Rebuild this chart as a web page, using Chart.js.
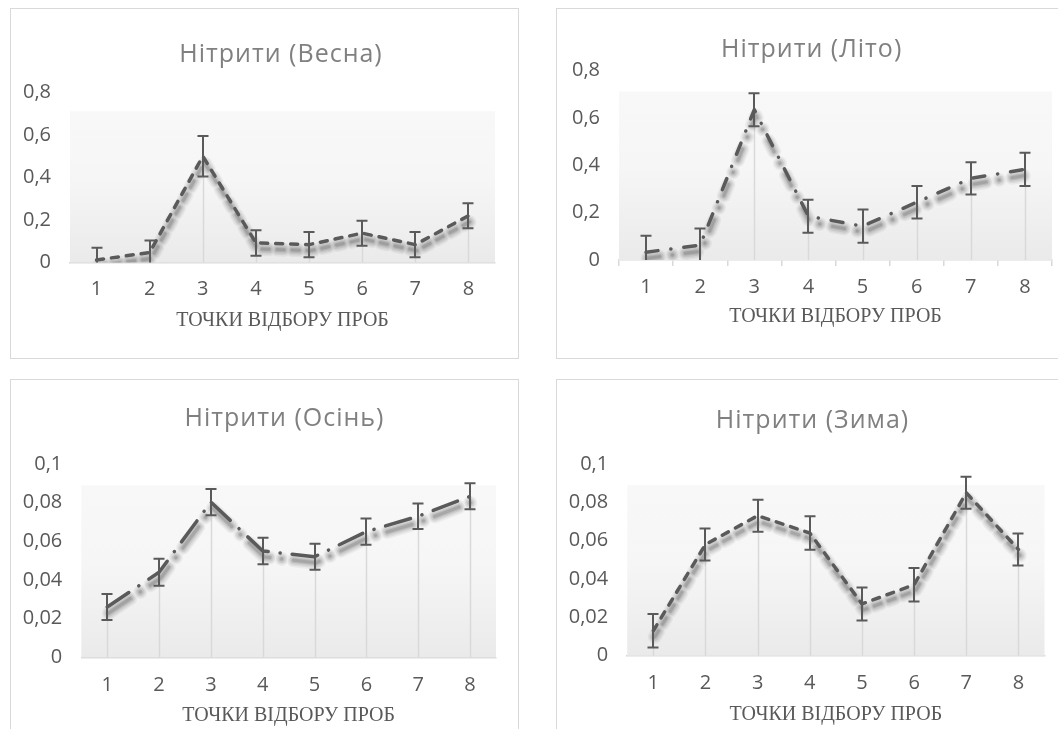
<!DOCTYPE html>
<html>
<head>
<meta charset="utf-8">
<script src="https://cdn.jsdelivr.net/npm/chart.js@4.4.1/dist/chart.umd.min.js"></script>
<style>
html,body{margin:0;padding:0;background:#ffffff;overflow:hidden;width:1058px;height:729px;position:relative;}
.panel{position:absolute;box-sizing:border-box;border:1px solid #d9d9d9;background:#ffffff;}
canvas{position:absolute;}
</style>
</head>
<body>
<div class="panel" style="left:10px;top:8px;width:509px;height:351px"></div>
<div class="panel" style="left:556px;top:8px;width:509px;height:351px"></div>
<div class="panel" style="left:10px;top:379px;width:509px;height:351px"></div>
<div class="panel" style="left:556px;top:379px;width:509px;height:351px"></div>
<canvas id="c1" width="508" height="350" style="left:10px;top:8px"></canvas>
<canvas id="c2" width="508" height="350" style="left:556px;top:8px"></canvas>
<canvas id="c3" width="508" height="350" style="left:10px;top:379px"></canvas>
<canvas id="c4" width="508" height="350" style="left:556px;top:379px"></canvas>
<script>
// ---------- data ----------
const categories = ['1', '2', '3', '4', '5', '6', '7', '8'];
const axisTitle = 'ТОЧКИ ВІДБОРУ ПРОБ';

const springTitle = 'Нітрити (Весна)';
const springValues = [0.012, 0.047, 0.5, 0.092, 0.084, 0.138, 0.084, 0.22];
const springErrors = [0.058, 0.056, 0.095, 0.06, 0.059, 0.059, 0.059, 0.059];
const springTicks = [0, 0.2, 0.4, 0.6, 0.8];
const springTickLabels = ['0', '0,2', '0,4', '0,6', '0,8'];

const summerTitle = 'Нітрити (Літо)';
const summerValues = [0.033, 0.063, 0.635, 0.185, 0.143, 0.244, 0.345, 0.383];
const summerErrors = [0.07, 0.07, 0.07, 0.07, 0.07, 0.069, 0.068, 0.07];
const summerTicks = [0, 0.2, 0.4, 0.6, 0.8];
const summerTickLabels = ['0', '0,2', '0,4', '0,6', '0,8'];

const autumnTitle = 'Нітрити (Осінь)';
const autumnValues = [0.026, 0.044, 0.0803, 0.055, 0.052, 0.065, 0.073, 0.0833];
const autumnErrors = [0.0067, 0.007, 0.0068, 0.0069, 0.0067, 0.0068, 0.0066, 0.0067];
const autumnTicks = [0, 0.02, 0.04, 0.06, 0.08, 0.1];
const autumnTickLabels = ['0', '0,02', '0,04', '0,06', '0,08', '0,1'];

const winterTitle = 'Нітрити (Зима)';
const winterValues = [0.013, 0.058, 0.073, 0.064, 0.027, 0.037, 0.085, 0.0554];
const winterErrors = [0.0087, 0.0083, 0.0084, 0.0087, 0.0086, 0.0087, 0.0084, 0.0084];
const winterTicks = [0, 0.02, 0.04, 0.06, 0.08, 0.1];
const winterTickLabels = ['0', '0,02', '0,04', '0,06', '0,08', '0,1'];

// ---------- styles ----------
const LINE = '#5a5a5a';
const TEXT = '#595959';
const TITLE = '#808080';
const AXIS = '#d9d9d9';

// ---------- plugins ----------
const plotBg = {
  id: 'plotBg',
  beforeDatasetsDraw(chart) {
    const {ctx, chartArea: a} = chart;
    const top = a.top + (a.bottom - a.top) * 0.11;
    const g = ctx.createLinearGradient(0, top, 0, a.bottom);
    g.addColorStop(0, '#f8f8f8');
    g.addColorStop(0.45, '#f6f6f6');
    g.addColorStop(1, '#eaeaea');
    ctx.save();
    ctx.fillStyle = g;
    ctx.fillRect(a.left, top, a.right - a.left, a.bottom - top);
    ctx.restore();
  }
};

const dropLines = {
  id: 'dropLines',
  beforeDatasetsDraw(chart) {
    const {ctx, chartArea: a, scales: {x, y}} = chart;
    const data = chart.data.datasets[0].data;
    ctx.save();
    ctx.strokeStyle = AXIS;
    ctx.lineWidth = 1.5;
    data.forEach((v, i) => {
      const px = Math.round(x.getPixelForValue(i)) + 0.5;
      ctx.beginPath();
      ctx.moveTo(px, y.getPixelForValue(v));
      ctx.lineTo(px, a.bottom);
      ctx.stroke();
    });
    ctx.restore();
  }
};

// soft shadow under the line, built from the line's own computed points
const lineShadow = {
  id: 'lineShadow',
  beforeDatasetDraw(chart) {
    const {ctx, chartArea: a} = chart;
    const meta = chart.getDatasetMeta(0);
    const ds = chart.data.datasets[0];
    const pts = meta.data;
    ctx.save();
    ctx.beginPath();
    ctx.rect(a.left, a.top - 10, a.right - a.left, a.bottom - a.top + 10);
    ctx.clip();
    ctx.setLineDash(ds.borderDash || []);
    ctx.lineCap = 'round';
    ctx.lineJoin = 'round';
    const layers = [[14, 0.045], [11, 0.06], [8, 0.075], [5, 0.09], [3, 0.1]];
    layers.forEach(([w, al]) => {
      ctx.lineWidth = w;
      ctx.strokeStyle = 'rgba(0,0,0,' + al + ')';
      ctx.beginPath();
      pts.forEach((p, i) => {
        if (i === 0) ctx.moveTo(p.x + 1.5, p.y + 6);
        else ctx.lineTo(p.x + 1.5, p.y + 6);
      });
      ctx.stroke();
    });
    ctx.restore();
  }
};

const errorBars = {
  id: 'errorBars',
  afterDatasetsDraw(chart, args, opts) {
    const {ctx, chartArea: a, scales: {x, y}} = chart;
    const data = chart.data.datasets[0].data;
    ctx.save();
    ctx.beginPath();
    ctx.rect(a.left, a.top - 20, a.right - a.left, a.bottom - a.top + 20);
    ctx.clip();
    ctx.strokeStyle = LINE;
    ctx.lineWidth = 2;
    data.forEach((v, i) => {
      const e = opts.errors[i];
      const px = Math.round(x.getPixelForValue(i));
      const yt = y.getPixelForValue(v + e);
      const yb = y.getPixelForValue(v - e);
      ctx.beginPath();
      ctx.moveTo(px, yt); ctx.lineTo(px, yb);
      ctx.moveTo(px - 5.5, yt); ctx.lineTo(px + 5.5, yt);
      ctx.moveTo(px - 5.5, yb); ctx.lineTo(px + 5.5, yb);
      ctx.stroke();
    });
    ctx.restore();
  }
};

const panelTitle = {
  id: 'panelTitle',
  afterDraw(chart, args, opts) {
    const ctx = chart.ctx;
    ctx.save();
    ctx.font = '25px "Open Sans"';
    ctx.fillStyle = TITLE;
    ctx.textAlign = 'center';
    ctx.textBaseline = 'middle';
    if ('letterSpacing' in ctx) ctx.letterSpacing = '1px';
    ctx.fillText(opts.text, opts.x, opts.y);
    ctx.restore();
  }
};

// ---------- builder ----------
function makeChart(id, s) {
  const W = 508, H = 350;
  return new Chart(document.getElementById(id), {
    type: 'line',
    data: {
      labels: categories,
      datasets: [{
        data: s.values,
        borderColor: LINE,
        borderWidth: 3.5,
        borderDash: s.dash,
        borderCapStyle: 'round',
        borderJoinStyle: 'round',
        pointRadius: 0,
        tension: 0,
        fill: false
      }]
    },
    options: {
      responsive: false,
      animation: false,
      events: [],
      layout: {padding: {left: 0, top: s.top, right: W - s.right, bottom: H - s.bottom - s.xh}},
      plugins: {
        legend: {display: false},
        tooltip: {enabled: false},
        title: {display: false},
        errorBars: {errors: s.errors},
        panelTitle: {text: s.title, x: s.tx, y: s.ty}
      },
      scales: {
        x: {
          type: 'category',
          offset: true,
          grid: {display: s.tickMarks, drawOnChartArea: false, drawTicks: s.tickMarks, tickLength: 6, color: AXIS, lineWidth: 1.5, offset: true},
          border: {display: true, color: AXIS, width: 1.5},
          ticks: {color: TEXT, font: {family: '"Open Sans"', size: 20}, padding: s.xpad, maxRotation: 0, autoSkip: false},
          title: {display: true, text: axisTitle, color: TEXT, font: {family: '"Liberation Serif"', size: 20}, padding: {top: 0, bottom: 0}},
          afterFit(scale) { scale.height = s.xh; }
        },
        y: {
          min: s.ticks[0],
          max: s.ticks[s.ticks.length - 1],
          grid: {display: false, drawTicks: false},
          border: {display: false},
          ticks: {
            color: TEXT, font: {family: '"Open Sans"', size: 20}, padding: 19,
            callback: (v, i) => s.tickLabels[i]
          },
          afterBuildTicks(scale) { scale.ticks = s.ticks.map(v => ({value: v})); },
          afterFit(scale) { scale.width = s.left; }
        }
      }
    },
    plugins: [plotBg, dropLines, lineShadow, errorBars, panelTitle]
  });
}

makeChart('c1', {
  title: springTitle, values: springValues, errors: springErrors, ticks: springTicks, tickLabels: springTickLabels,
  dash: [7, 8], tickMarks: false,
  left: 60, right: 485, top: 84.5, bottom: 254.5, xh: 70.2, xpad: 15, tx: 271, ty: 46.5
});
makeChart('c2', {
  title: summerTitle, values: summerValues, errors: summerErrors, ticks: summerTicks, tickLabels: summerTickLabels,
  dash: [12, 13, 0.1, 13], tickMarks: true,
  left: 63, right: 496, top: 62.7, bottom: 252, xh: 69, xpad: 9, tx: 255.6, ty: 41.5
});
makeChart('c3', {
  title: autumnTitle, values: autumnValues, errors: autumnErrors, ticks: autumnTicks, tickLabels: autumnTickLabels,
  dash: [26, 12, 0.1, 12], tickMarks: false,
  left: 71.3, right: 486, top: 85, bottom: 278.3, xh: 70.4, xpad: 16.4, tx: 274.5, ty: 40
});
makeChart('c4', {
  title: winterTitle, values: winterValues, errors: winterErrors, ticks: winterTicks, tickLabels: winterTickLabels,
  dash: [7, 8], tickMarks: false,
  left: 71.2, right: 488.5, top: 85, bottom: 276.7, xh: 71, xpad: 15.3, tx: 256.5, ty: 42
});
</script>
</body>
</html>
